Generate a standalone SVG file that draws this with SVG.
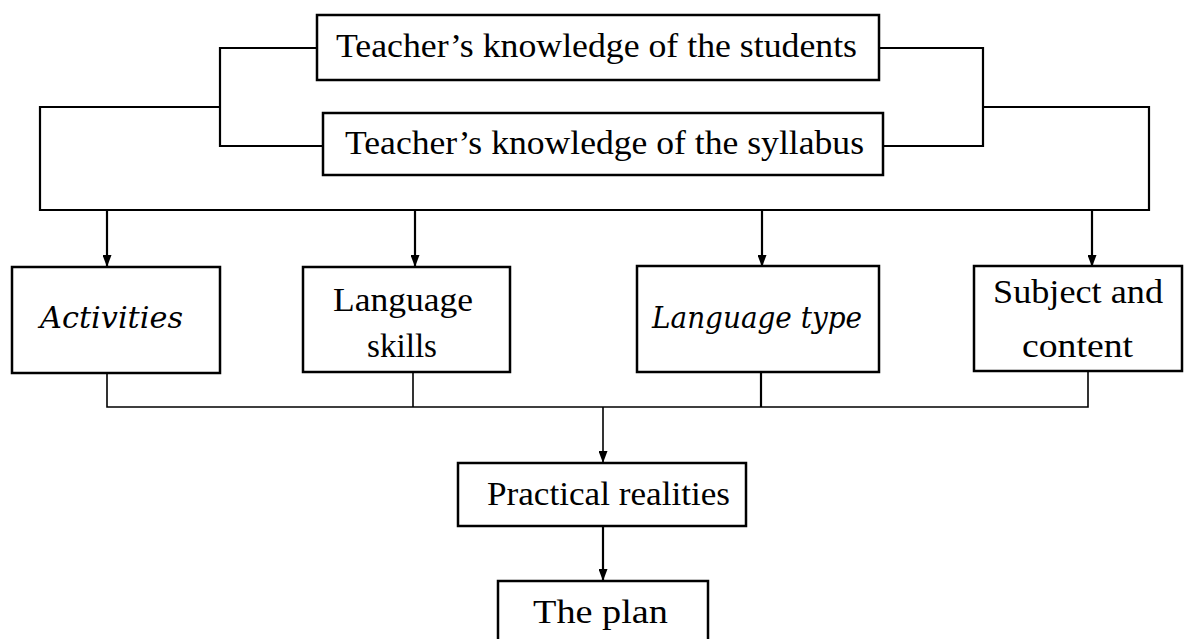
<svg xmlns="http://www.w3.org/2000/svg" width="1185" height="639" viewBox="0 0 1185 639">
<style>
.box{fill:#fff;stroke:#000;stroke-width:2.5}
.ln{fill:none;stroke:#000;stroke-width:2.2}
.thin{fill:none;stroke:#000;stroke-width:1.6}
text{font-family:"Liberation Serif","DejaVu Serif",serif;font-size:34px;fill:#000;text-anchor:middle}
.it{font-family:"DejaVu Serif","Liberation Serif",serif;font-style:italic;font-size:30px}
</style>
<defs>
<marker id="ah" markerUnits="userSpaceOnUse" viewBox="0 0 12 9" refX="12" refY="4.5" markerWidth="12" markerHeight="9" orient="auto">
<path d="M0,0 L12,4.5 L0,9 z" fill="#000"/>
</marker>
</defs>
<rect width="1185" height="639" fill="#fff"/>
<g id="connectors">
<path class="ln" d="M317,48 H220 V146 H323"/>
<path class="ln" d="M879,48 H983 V146 H883"/>
<path class="ln" d="M220,107 H40 V210 H1149 V107 H983"/>
<line class="ln" x1="107" y1="210" x2="107" y2="267" marker-end="url(#ah)"/>
<line class="ln" x1="415" y1="210" x2="415" y2="267" marker-end="url(#ah)"/>
<line class="ln" x1="762" y1="210" x2="762" y2="267" marker-end="url(#ah)"/>
<line class="ln" x1="1092" y1="210" x2="1092" y2="267" marker-end="url(#ah)"/>
<path class="thin" d="M107,373 V407 H1088 V372"/>
<line class="thin" x1="413" y1="372" x2="413" y2="407"/>
<line class="ln" x1="761" y1="372" x2="761" y2="407"/>
<line class="thin" x1="603" y1="407" x2="603" y2="463" marker-end="url(#ah)"/>
<line class="ln" x1="603" y1="526" x2="603" y2="581" marker-end="url(#ah)"/>
</g>
<g id="node-students">
<rect class="box" x="317" y="15" width="562" height="65"/>
<text x="596.5" y="57" textLength="521" lengthAdjust="spacingAndGlyphs">Teacher’s knowledge of the students</text>
</g>
<g id="node-syllabus">
<rect class="box" x="323" y="113" width="560" height="62"/>
<text x="604.5" y="154" textLength="519" lengthAdjust="spacingAndGlyphs">Teacher’s knowledge of the syllabus</text>
</g>
<g id="node-activities">
<rect class="box" x="12" y="267" width="208" height="106"/>
<text class="it" x="111.5" y="328" textLength="143" lengthAdjust="spacingAndGlyphs">Activities</text>
</g>
<g id="node-skills">
<rect class="box" x="303" y="267" width="207" height="105"/>
<text x="403" y="311" textLength="140" lengthAdjust="spacingAndGlyphs">Language</text>
<text x="402" y="357" textLength="70" lengthAdjust="spacingAndGlyphs">skills</text>
</g>
<g id="node-type">
<rect class="box" x="637" y="266" width="242" height="106"/>
<text class="it" x="757" y="328" textLength="210" lengthAdjust="spacingAndGlyphs">Language type</text>
</g>
<g id="node-subject">
<rect class="box" x="974" y="266" width="208" height="105"/>
<text x="1078" y="303" textLength="170" lengthAdjust="spacingAndGlyphs">Subject and</text>
<text x="1077.5" y="357" textLength="111" lengthAdjust="spacingAndGlyphs">content</text>
</g>
<g id="node-practical">
<rect class="box" x="458" y="463" width="288" height="63"/>
<text x="608.5" y="505" textLength="243" lengthAdjust="spacingAndGlyphs">Practical realities</text>
</g>
<g id="node-plan">
<rect class="box" x="498" y="581" width="210" height="70"/>
<text x="600.5" y="623" textLength="135" lengthAdjust="spacingAndGlyphs">The plan</text>
</g>
</svg>
